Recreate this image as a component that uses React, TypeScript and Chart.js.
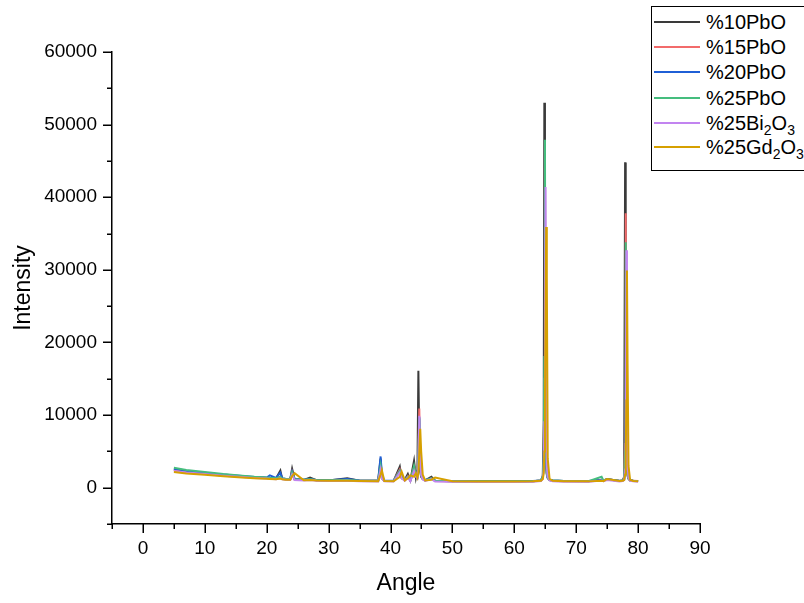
import React, { useEffect, useRef } from 'react';
import { Chart, registerables } from 'chart.js';
Chart.register(...registerables);

const FONT = '"Liberation Sans", Arial, Helvetica, sans-serif';

const angles = [5, 7, 10, 13, 16, 18, 20, 20.5, 21.5, 22.2, 22.5, 23, 23.8, 24.1, 24.5, 26, 27, 28, 30, 33, 35, 38, 38.4, 38.6, 39, 40.5, 41.5, 41.8, 42.3, 42.8, 43.2, 43.8, 44.1, 44.35, 44.5, 44.65, 44.8, 44.95, 45.2, 45.6, 46.6, 47.2, 50, 55, 60, 63, 64.3, 64.6, 64.75, 64.85, 64.95, 65.05, 65.15, 65.25, 65.4, 65.7, 66.2, 68, 72, 74.1, 74.4, 75, 77, 77.5, 77.75, 77.9, 78.0, 78.1, 78.2, 78.3, 78.45, 78.7, 79.2, 80];

const pbo10 = [2500, 2250, 2000, 1750, 1550, 1420, 1330, 1300, 1260, 2350, 1250, 1190, 1160, 2600, 1150, 1080, 1400, 1030, 1000, 1300, 960, 950, 4000, 1300, 950, 930, 2900, 1300, 1100, 1900, 1000, 3700, 1400, 2500, 16100, 6000, 2200, 1500, 1200, 1000, 1500, 950, 900, 880, 880, 900, 1000, 1600, 9000, 53000, 20000, 6000, 3000, 1800, 1300, 1050, 980, 920, 900, 1100, 1000, 1200, 930, 1000, 1500, 44800, 15000, 5000, 2500, 1600, 1200, 1000, 950, 920];

const pbo15 = [2450, 2200, 1970, 1730, 1530, 1400, 1320, 1290, 1250, 1500, 1230, 1180, 1150, 2200, 1140, 1070, 1150, 1020, 990, 1050, 950, 940, 3200, 1400, 940, 920, 2500, 1400, 1050, 1600, 980, 2800, 1700, 1500, 5000, 10900, 3500, 1800, 1200, 1000, 1300, 930, 890, 870, 870, 890, 980, 1400, 3500, 15000, 44000, 12000, 4000, 2000, 1400, 1050, 970, 910, 890, 1000, 950, 1150, 920, 980, 1200, 6000, 37800, 12000, 4000, 2000, 1300, 1000, 940, 910];

const pbo20 = [2600, 2330, 2070, 1800, 1600, 1480, 1400, 1700, 1350, 2050, 1300, 1220, 1200, 2200, 1200, 1110, 1200, 1060, 1020, 1200, 980, 970, 4300, 1800, 980, 950, 2300, 1500, 1100, 1500, 1000, 2200, 1800, 1500, 3500, 9700, 4000, 1800, 1250, 1050, 1250, 960, 910, 900, 900, 920, 1000, 1400, 3000, 12000, 39000, 11000, 4000, 2000, 1400, 1080, 1000, 930, 910, 1050, 980, 1150, 940, 1000, 1150, 3000, 12000, 30000, 8000, 3000, 1500, 1050, 970, 930];

const pbo25 = [2750, 2450, 2150, 1870, 1650, 1500, 1400, 1360, 1310, 1500, 1280, 1220, 1190, 2100, 1180, 1100, 1150, 1050, 1010, 1050, 970, 950, 3000, 1500, 960, 930, 2300, 1400, 1050, 1500, 990, 3000, 1600, 1500, 4500, 9500, 3500, 1700, 1200, 1000, 1300, 940, 900, 880, 880, 900, 990, 1500, 4000, 18000, 47900, 12000, 4000, 2000, 1400, 1060, 980, 910, 890, 1500, 1000, 1150, 930, 990, 1200, 5000, 33800, 11000, 4000, 2000, 1300, 1000, 950, 910];

const bi2o3 = [2300, 2080, 1870, 1650, 1460, 1340, 1250, 1220, 1180, 1300, 1160, 1110, 1080, 1800, 1070, 1000, 1050, 950, 910, 950, 880, 860, 2500, 1300, 870, 840, 2100, 1300, 950, 1400, 880, 2300, 1500, 1300, 3000, 9900, 4500, 1800, 1150, 930, 1200, 850, 810, 800, 800, 820, 900, 1200, 2500, 9000, 25000, 41400, 9000, 3000, 1500, 1000, 900, 830, 810, 1000, 900, 1050, 850, 900, 1050, 2500, 9000, 32700, 9000, 3000, 1400, 950, 880, 830];

const gd2o3 = [2150, 1950, 1770, 1580, 1410, 1300, 1220, 1200, 1170, 1250, 1150, 1110, 1090, 1600, 2000, 1020, 1050, 980, 950, 960, 920, 900, 1800, 2400, 920, 890, 1500, 2200, 1000, 1300, 1700, 1500, 2000, 1400, 2000, 5000, 8100, 5000, 1800, 1000, 1100, 1400, 880, 860, 860, 880, 950, 1200, 2000, 5000, 12000, 25000, 35900, 29000, 4000, 1200, 950, 890, 870, 950, 900, 1200, 910, 950, 1050, 1800, 4000, 12000, 29900, 17000, 3000, 1100, 930, 880];

const seriesNames = ['%10PbO', '%15PbO', '%20PbO', '%25PbO', '%25Bi2O3', '%25Gd2O3'];
const seriesValues = [pbo10, pbo15, pbo20, pbo25, bi2o3, gd2o3];
const seriesColors = ['#3a3a3a', '#f26b6b', '#1f5fd6', '#45bd7e', '#c284f0', '#d6a000'];

const xTickValues = [0, 10, 20, 30, 40, 50, 60, 70, 80, 90];
const yTickValues = [0, 10000, 20000, 30000, 40000, 50000, 60000];

const tickMarks = {
  id: 'tickMarks',
  afterDraw(chart: any) {
    const ctx = chart.ctx;
    const xs = chart.scales.x;
    const ys = chart.scales.y;
    const area = chart.chartArea;
    ctx.save();
    ctx.strokeStyle = '#000';
    ctx.lineWidth = 1.5;
    ctx.beginPath();
    xs.ticks.forEach((t: any) => {
      const px = Math.round(xs.getPixelForValue(t.value)) + 0.25;
      const len = xTickValues.includes(t.value) ? 9 : 5;
      ctx.moveTo(px, area.bottom);
      ctx.lineTo(px, area.bottom + len);
    });
    ys.ticks.forEach((t: any) => {
      const py = Math.round(ys.getPixelForValue(t.value)) + 0.25;
      const len = yTickValues.includes(t.value) ? 9 : 5;
      ctx.moveTo(area.left - len, py);
      ctx.lineTo(area.left, py);
    });
    ctx.stroke();
    ctx.restore();
  },
};

const subStyle: React.CSSProperties = { fontSize: 14, verticalAlign: -5, lineHeight: 0 };

function Legend() {
  const rows: [number, React.ReactNode][] = [
    [15, <span>%10PbO</span>],
    [40, <span>%15PbO</span>],
    [65, <span>%20PbO</span>],
    [91, <span>%25PbO</span>],
    [116, <span>%25Bi<sub style={subStyle}>2</sub>O<sub style={subStyle}>3</sub></span>],
    [140, <span>%25Gd<sub style={subStyle}>2</sub>O<sub style={subStyle}>3</sub></span>],
  ];
  return (
    <div
      style={{
        position: 'absolute',
        left: 651,
        top: 6,
        width: 200,
        height: 165,
        border: '1.5px solid #000',
        background: '#fff',
        boxSizing: 'border-box',
        fontFamily: FONT,
        fontSize: 20,
        color: '#000',
      }}
    >
      {rows.map(([cy, label], i) => (
        <div key={i} style={{ position: 'absolute', left: 0, top: cy - 12, height: 24, width: 200 }}>
          <div style={{ position: 'absolute', left: 2, top: 11, width: 46, height: 2, background: seriesColors[i] }} />
          <div style={{ position: 'absolute', left: 54, top: 0, lineHeight: '24px', whiteSpace: 'nowrap' }}>{label}</div>
        </div>
      ))}
    </div>
  );
}

export default function App() {
  const ref = useRef<HTMLCanvasElement>(null);
  useEffect(() => {
    if (!ref.current) return;
    const datasets = seriesNames.map((name, i) => ({
      label: name,
      data: angles.map((a, j) => ({ x: a, y: seriesValues[i][j] })),
      borderColor: seriesColors[i],
      backgroundColor: seriesColors[i],
      borderWidth: 2,
      pointRadius: 0,
      tension: 0,
      fill: false,
      order: 6 - i,
    }));
    const chart = new Chart(ref.current, {
      type: 'line',
      data: { datasets },
      plugins: [tickMarks],
      options: {
        animation: false,
        responsive: false,
        maintainAspectRatio: false,
        devicePixelRatio: 1,
        layout: { padding: { left: 0, top: 52, right: 104, bottom: 0 } },
        plugins: { legend: { display: false }, tooltip: { enabled: false } },
        scales: {
          x: {
            type: 'linear',
            min: -5,
            max: 90,
            afterFit: (s: any) => { s.height = 79; },
            grid: { display: true, drawOnChartArea: false, drawTicks: false },
            border: { display: true, color: '#000', width: 1.5 },
            ticks: {
              stepSize: 5,
              autoSkip: false,
              maxRotation: 0,
              padding: 13,
              color: '#000',
              font: { family: FONT, size: 19 },
              callback: (v: any) => (xTickValues.includes(v) ? String(v) : ''),
            },
            title: {
              display: true,
              text: 'Angle',
              color: '#000',
              font: { family: FONT, size: 23 },
              padding: { top: 0, bottom: 6 },
            },
          },
          y: {
            type: 'linear',
            min: -5000,
            max: 60000,
            afterFit: (s: any) => { s.width = 112; },
            grid: { display: true, drawOnChartArea: false, drawTicks: false },
            border: { display: true, color: '#000', width: 1.5 },
            ticks: {
              stepSize: 5000,
              autoSkip: false,
              padding: 15,
              color: '#000',
              font: { family: FONT, size: 19 },
              callback: (v: any) => (yTickValues.includes(v) ? String(v) : ''),
            },
            title: {
              display: true,
              text: 'Intensity',
              color: '#000',
              font: { family: FONT, size: 23 },
              padding: { top: 10, bottom: 0 },
            },
          },
        },
      } as any,
    });
    return () => chart.destroy();
  }, []);
  return (
    <div style={{ position: 'fixed', left: 0, top: 0, width: 804, height: 603, overflow: 'hidden', background: '#fff' }}>
      <canvas ref={ref} width={804} height={603} style={{ position: 'absolute', left: 0, top: 0, width: 804, height: 603 }} />
      <Legend />
    </div>
  );
}
